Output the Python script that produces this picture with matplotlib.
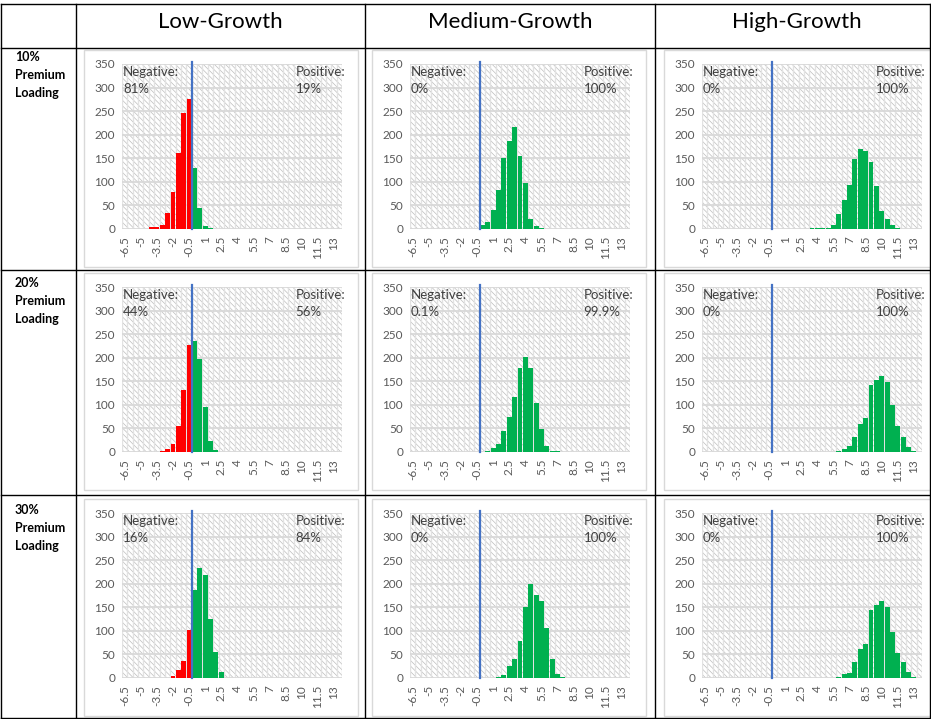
import matplotlib
matplotlib.use('Agg')
import matplotlib.pyplot as plt
from matplotlib.patches import Rectangle

plt.rcParams['font.family'] = ['Lato', 'DejaVu Sans']
plt.rcParams['hatch.linewidth'] = 0.5

W, H = 931, 719

# ---------------- data ----------------
categories = [-6.5, -6.0, -5.5, -5.0, -4.5, -4.0, -3.5, -3.0, -2.5, -2.0,
              -1.5, -1.0, -0.5, 0.0, 0.5, 1.0, 1.5, 2.0, 2.5, 3.0,
              3.5, 4.0, 4.5, 5.0, 5.5, 6.0, 6.5, 7.0, 7.5, 8.0,
              8.5, 9.0, 9.5, 10.0, 10.5, 11.0, 11.5, 12.0, 12.5, 13.0, 13.5]
tick_labels = ['-6.5', '-5', '-3.5', '-2', '-0.5', '1', '2.5', '4', '5.5',
               '7', '8.5', '10', '11.5', '13']
y_ticks = [0, 50, 100, 150, 200, 250, 300, 350]

col_titles = ['Low-Growth', 'Medium-Growth', 'High-Growth']
row_titles = [['10%', 'Premium', 'Loading'],
              ['20%', 'Premium', 'Loading'],
              ['30%', 'Premium', 'Loading']]

# counts per bin, given from first non-empty bin
low_10_start = -4.0
low_10 = [4, 4, 9, 34, 78, 161, 245, 275, 129, 44, 7, 2]
med_10_start = 0.0
med_10 = [9, 15, 40, 82, 151, 187, 217, 154, 97, 21, 6, 2]
high_10_start = 3.5
high_10 = [2, 3, 3, 2, 9, 31, 62, 93, 149, 169, 166, 143, 91, 39, 22, 9, 3]

low_20_start = -3.0
low_20 = [2, 6, 16, 55, 132, 228, 235, 197, 96, 23, 4]
med_20_start = -0.5
med_20 = [1, 0, 2, 9, 16, 44, 74, 116, 178, 201, 178, 104, 49, 13, 2, 2]
high_20_start = 6.0
high_20 = [2, 7, 12, 32, 60, 72, 143, 153, 162, 149, 100, 55, 31, 11, 2]

low_30_start = -2.0
low_30 = [4, 16, 36, 102, 186, 234, 218, 125, 55, 13]
med_30_start = 1.5
med_30 = [3, 6, 25, 40, 78, 151, 200, 177, 163, 106, 40, 9, 3]
high_30_start = 6.0
high_30 = [2, 9, 11, 33, 62, 73, 144, 154, 164, 151, 98, 54, 33, 13, 3]

panels = [[(low_10_start, low_10), (med_10_start, med_10), (high_10_start, high_10)],
          [(low_20_start, low_20), (med_20_start, med_20), (high_20_start, high_20)],
          [(low_30_start, low_30), (med_30_start, med_30), (high_30_start, high_30)]]

neg_pct = [['81%', '0%', '0%'], ['44%', '0.1%', '0%'], ['16%', '0%', '0%']]
pos_pct = [['19%', '100%', '100%'], ['56%', '99.9%', '100%'], ['84%', '100%', '100%']]

# ---------------- layout (pixels) ----------------
fig = plt.figure(figsize=(W / 100, H / 100), dpi=100)
bg = fig.add_axes([0, 0, 1, 1])
bg.set_xlim(0, W)
bg.set_ylim(H, 0)
bg.axis('off')

vlines_x = [1, 76, 365, 655, 930]
hlines_y = [4, 48, 270, 495, 718]
for x in vlines_x:
    bg.plot([x, x], [hlines_y[0], hlines_y[-1]], color='black', lw=1.0)
for y in hlines_y:
    bg.plot([vlines_x[0], vlines_x[-1]], [y, y], color='black', lw=1.0)

col_centers = [220, 510, 797]
for c, t in enumerate(col_titles):
    bg.text(col_centers[c], 22, t, ha='center', va='center', fontsize=16, color='black')

row_label_top = [57, 283, 510]
for r, lines in enumerate(row_titles):
    for k, s in enumerate(lines):
        bg.text(15, row_label_top[r] + 18 * k, s, ha='left', va='center',
                fontsize=9, fontweight='bold', color='black')

plot_left = [122, 410, 702]
plot_w = 220
plot_top = [64, 287, 513]
plot_h = 165

ncat = len(categories)
zero_pos = categories.index(0.0) - 0.5

for r in range(3):
    for c in range(3):
        x0, y0 = plot_left[c], plot_top[r]
        # chart-area frame
        bg.add_patch(Rectangle((x0 - 38, y0 - 14), plot_w + 54, plot_h + 52,
                               facecolor='white', edgecolor='#d9d9d9', lw=1))
        ax = fig.add_axes([x0 / W, 1 - (y0 + plot_h) / H, plot_w / W, plot_h / H])
        ax.set_xlim(-0.5, ncat - 0.5)
        ax.set_ylim(0, 350)
        ax.add_patch(Rectangle((-0.5, 0), ncat, 350, facecolor='white',
                               edgecolor='#bdbdbd', hatch='\\\\\\\\\\\\', lw=0, zorder=0))
        for i in range(ncat + 1):
            ax.axvline(i - 0.5, color='#e2e2e2', lw=1.0, zorder=1)
        for yv in y_ticks:
            ax.axhline(yv, color='#d9d9d9', lw=1.3, zorder=1)
        start, counts = panels[r][c]
        i0 = categories.index(start)
        idx = list(range(i0, i0 + len(counts)))
        cols = ['#FF0000' if categories[i] < 0 else '#00B050' for i in idx]
        ax.bar(idx, counts, width=0.92, color=cols, zorder=2, linewidth=0)
        ax.plot([zero_pos, zero_pos], [0, 355], color='#4472C4', lw=1.6,
                zorder=3, clip_on=False)
        for s in ax.spines.values():
            s.set_visible(False)
        ax.set_xticks(range(0, ncat, 3))
        ax.set_xticklabels(tick_labels, rotation=90, fontsize=8.5, color='#595959')
        ax.set_yticks(y_ticks)
        ax.set_yticklabels([str(v) for v in y_ticks], fontsize=8.5, color='#595959')
        ax.tick_params(length=0, pad=5)
        ax.text(0.005, 0.985, 'Negative:\n' + neg_pct[r][c], transform=ax.transAxes,
                ha='left', va='top', fontsize=9.5, color='#404040', zorder=4,
                linespacing=1.45)
        ax.text(1.015, 0.985, 'Positive:\n' + pos_pct[r][c], transform=ax.transAxes,
                ha='right', va='top', multialignment='left', fontsize=9.5,
                color='#404040', zorder=4, linespacing=1.45, clip_on=False)

fig.savefig('out.png', dpi=100)
